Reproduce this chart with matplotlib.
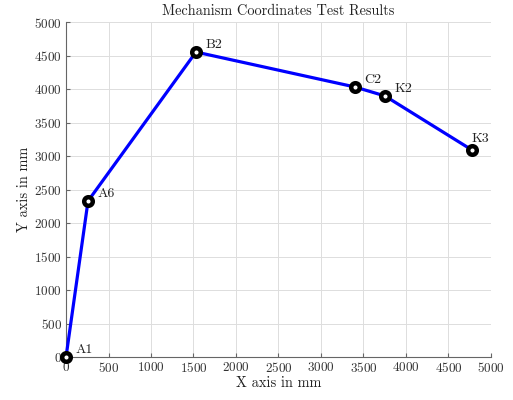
import matplotlib
matplotlib.use("Agg")
import matplotlib.pyplot as plt

plt.rcParams['font.family'] = 'serif'
plt.rcParams['font.serif'] = ['cmr10', 'DejaVu Serif']
plt.rcParams['mathtext.fontset'] = 'cm'
plt.rcParams['axes.formatter.use_mathtext'] = True

labels = ["A1", "A6", "B2", "C2", "K2", "K3"]
x_vals = [0, 259, 1529, 3400, 3753, 4776]
y_vals = [0, 2328, 4552, 4030, 3896, 3090]
xticks = list(range(0, 5001, 500))
yticks = list(range(0, 5001, 500))

fig = plt.figure(figsize=(5.13, 4.0), dpi=100)
ax = fig.add_axes([0.1287, 0.1075, 0.957 - 0.1287, 0.945 - 0.1075])

ax.plot(x_vals, y_vals, color='#0000ff', lw=2.3, zorder=3, clip_on=False)
ax.plot(x_vals, y_vals, linestyle='none', marker='o', markersize=6.2,
        markerfacecolor='white', markeredgecolor='black', markeredgewidth=3.2,
        zorder=4, clip_on=False)
for lab, xv, yv in zip(labels, x_vals, y_vals):
    off = (0, 6) if lab == "K3" else (7, 3)
    ax.annotate(lab, (xv, yv), xytext=off, textcoords='offset points',
                fontsize=10, color='#222222', zorder=5)

ax.set_xlim(0, 5000)
ax.set_ylim(0, 5000)
ax.set_xticks(xticks)
ax.set_yticks(yticks)
ax.grid(True, color='#dddddd', lw=0.7)
ax.set_axisbelow(True)
for s in ['top', 'right']:
    ax.spines[s].set_visible(False)
for s in ['left', 'bottom']:
    ax.spines[s].set_color('#666666')
    ax.spines[s].set_linewidth(0.8)
ax.tick_params(direction='in', length=3, color='#666666', labelsize=9.5, labelcolor='#333333', pad=3)
ax.set_xlabel('X axis in mm', fontsize=10.4, color='#222222', labelpad=1)
ax.set_ylabel('Y axis in mm', fontsize=10.4, color='#222222', labelpad=2)
ax.set_title('Mechanism Coordinates Test Results', fontsize=10.3, color='#222222', pad=5)

fig.savefig('out.png', dpi=100)
